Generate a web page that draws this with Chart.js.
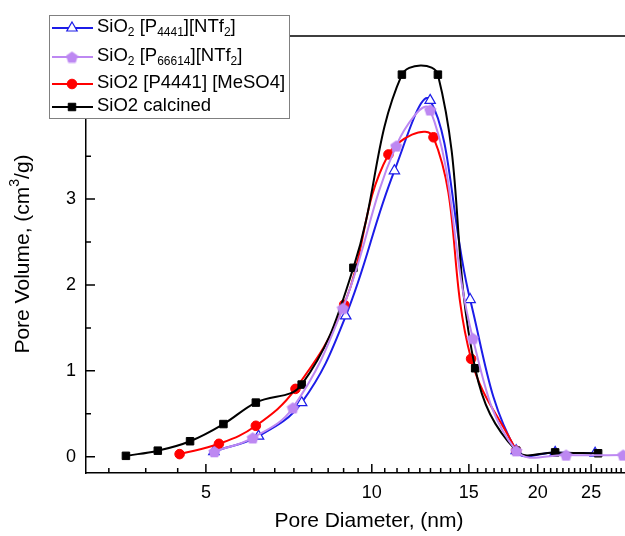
<!DOCTYPE html>
<html>
<head>
<meta charset="utf-8">
<script src="https://cdn.jsdelivr.net/npm/chart.js"></script>
<style>
  body { margin: 0; background: #fff; }
  #caja { width: 625px; height: 536px; }
</style>
</head>
<body>
<div id="caja"><canvas id="grafica" width="625" height="536"></canvas></div>
<script>
// etiquetas de la leyenda (subindices con unicode)
const etiquetas = ['SiO₂ [P₄₄₄₁][NTf₂]', 'SiO₂ [P₆₆₆₁₄][NTf₂]', 'SiO2 [P4441] [MeSO4]', 'SiO2 calcined']

// diametro de poro (nm) y volumen de poro (cm3/g)
const azulX = [5.17, 6.23, 7.46, 8.97, 10.99, 12.76, 15.08, 18.28, 21.51, 25.42]
const azulY = [0.06, 0.24, 0.63, 1.64, 3.33, 4.15, 1.83, 0.07, 0.05, 0.04]

const moradoX = [5.18, 6.08, 7.19, 8.86, 11.07, 12.76, 15.25, 18.28, 22.52, 28.58]
const moradoY = [0.06, 0.22, 0.57, 1.73, 3.62, 4.04, 1.38, 0.07, 0.02, 0.02]

const rojoX = [4.48, 5.28, 6.16, 7.27, 8.91, 10.72, 12.94, 15.14, 18.28]
const rojoY = [0.03, 0.15, 0.36, 0.79, 1.77, 3.52, 3.72, 1.14, 0.07]

const negroX = [3.58, 4.09, 4.68, 5.38, 6.16, 7.46, 9.26, 11.34, 13.18, 15.40, 18.28, 21.51, 25.74]
const negroY = [0.01, 0.07, 0.18, 0.38, 0.63, 0.84, 2.20, 4.45, 4.45, 1.03, 0.07, 0.05, 0.04]

const ticksX = [5, 10, 15, 20, 25]
const ticksY = [0, 1, 2, 3, 4]

const tituloX = 'Pore Diameter, (nm)'
const tituloY = 'Pore Volume, (cm³/g)'

const azul = '#1c1ce8'
const morado = '#bd88f2'
const rojo = '#ff0000'
const negro = '#000000'
const fuente = '"Liberation Sans", Arial, sans-serif'

// pentagono para la serie morada
const pentagono = document.createElement('canvas')
pentagono.width = 13
pentagono.height = 13
const pc = pentagono.getContext('2d')
pc.fillStyle = morado
pc.beginPath()
for (let i = 0; i < 5; i++) {
    const a = -Math.PI / 2 + i * 2 * Math.PI / 5
    const px = 6.5 + 6.3 * Math.cos(a)
    const py = 7.2 + 6.3 * Math.sin(a)
    if (i) pc.lineTo(px, py)
    else pc.moveTo(px, py)
}
pc.closePath()
pc.fill()

const puntos = (xs, ys) => xs.map((x, i) => ({ x: x, y: ys[i] }))

// texto con subindices / superindices unicode
const subs = { '₀': '0', '₁': '1', '₂': '2', '₃': '3', '₄': '4', '₆': '6' }
const sups = { '³': '3' }

const trozos = (texto) => {
    const res = []
    for (const c of texto) {
        const tipo = subs[c] ? 'sub' : (sups[c] ? 'sup' : 'n')
        const ch = subs[c] || sups[c] || c
        const ult = res[res.length - 1]
        if (ult && ult.tipo === tipo) ult.t += ch
        else res.push({ t: ch, tipo: tipo })
    }
    return res
}

const dibujarTexto = (ctx, texto, x, y, size, centrado) => {
    const partes = trozos(texto)
    const chico = Math.round(size * 0.66)
    let total = 0
    partes.forEach(p => {
        ctx.font = `${p.tipo === 'n' ? size : chico}px ${fuente}`
        p.w = ctx.measureText(p.t).width
        total += p.w
    })
    let cx = centrado ? x - total / 2 : x
    ctx.textBaseline = 'middle'
    ctx.textAlign = 'left'
    partes.forEach(p => {
        ctx.font = `${p.tipo === 'n' ? size : chico}px ${fuente}`
        let dy = 0
        if (p.tipo === 'sub') dy = size * 0.32
        if (p.tipo === 'sup') dy = -size * 0.36
        ctx.fillText(p.t, cx, y + dy)
        cx += p.w
    })
}

const extras = {
    id: 'extras',
    afterDraw(chart) {
        const { ctx, chartArea: a, scales } = chart
        const x = scales.x
        const y = scales.y
        ctx.save()
        ctx.strokeStyle = '#000'
        ctx.lineWidth = 1.5
        ctx.beginPath()
        x.ticks.forEach(t => {
            const px = x.getPixelForValue(t.value)
            const largo = ticksX.includes(t.value) ? 9 : 5
            ctx.moveTo(px, a.bottom)
            ctx.lineTo(px, a.bottom - largo)
        })
        y.ticks.forEach(t => {
            const py = y.getPixelForValue(t.value)
            const largo = ticksY.includes(t.value) ? 9 : 5
            ctx.moveTo(a.left, py)
            ctx.lineTo(a.left + largo, py)
        })
        ctx.moveTo(a.left, a.top)
        ctx.lineTo(chart.width, a.top)
        ctx.stroke()

        // titulos de los ejes
        ctx.fillStyle = '#000'
        dibujarTexto(ctx, tituloX, 369, 521, 21, true)
        ctx.save()
        ctx.translate(23, 254)
        ctx.rotate(-Math.PI / 2)
        dibujarTexto(ctx, tituloY, 0, 0, 21, true)
        ctx.restore()

        // leyenda
        ctx.fillStyle = '#fff'
        ctx.fillRect(49, 15, 240, 103)
        ctx.strokeStyle = '#808080'
        ctx.lineWidth = 1
        ctx.strokeRect(49.5, 15.5, 240, 103)
        const filas = [28, 57, 84, 107]
        chart.data.datasets.forEach((ds, i) => {
            const fy = filas[i]
            ctx.strokeStyle = ds.borderColor
            ctx.lineWidth = 2
            ctx.beginPath()
            ctx.moveTo(52, fy)
            ctx.lineTo(93, fy)
            ctx.stroke()
            ctx.fillStyle = ds.pointBackgroundColor
            ctx.strokeStyle = ds.pointBorderColor
            ctx.lineWidth = ds.pointBorderWidth
            Chart.helpers.drawPoint(ctx, {
                pointStyle: ds.pointStyle,
                radius: ds.pointRadius,
                rotation: 0,
                borderWidth: ds.pointBorderWidth
            }, 72, fy)
            ctx.fillStyle = '#000'
            dibujarTexto(ctx, ds.label, 97, fy - 1, 18.5, false)
        })
        ctx.restore()
    }
}

const grafico = new Chart(document.querySelector('#grafica'), {
    type: 'line',
    data: {
        datasets: [
            {
                label: etiquetas[0],
                data: puntos(azulX, azulY),
                borderColor: azul,
                borderWidth: 2,
                pointStyle: 'triangle',
                pointRadius: 6,
                pointBackgroundColor: '#fff',
                pointBorderColor: azul,
                pointBorderWidth: 1.2,
                tension: 0.4,
                order: 3
            },
            {
                label: etiquetas[1],
                data: puntos(moradoX, moradoY),
                borderColor: morado,
                borderWidth: 2,
                pointStyle: pentagono,
                pointRadius: 6,
                pointBackgroundColor: morado,
                pointBorderColor: morado,
                pointBorderWidth: 1,
                tension: 0.4,
                order: 0
            },
            {
                label: etiquetas[2],
                data: puntos(rojoX, rojoY),
                borderColor: rojo,
                borderWidth: 2,
                pointStyle: 'circle',
                pointRadius: 4.8,
                pointBackgroundColor: rojo,
                pointBorderColor: rojo,
                pointBorderWidth: 1,
                tension: 0.4,
                order: 2
            },
            {
                label: etiquetas[3],
                data: puntos(negroX, negroY),
                borderColor: negro,
                borderWidth: 2,
                pointStyle: 'rect',
                pointRadius: 5.3,
                pointBackgroundColor: negro,
                pointBorderColor: negro,
                pointBorderWidth: 1,
                tension: 0.4,
                order: 1
            }
        ]
    },
    options: {
        responsive: false,
        animation: false,
        layout: { autoPadding: false, padding: { top: 36, right: 0, left: 0, bottom: 0 } },
        plugins: {
            legend: { display: false },
            tooltip: { enabled: false }
        },
        scales: {
            x: {
                type: 'logarithmic',
                bounds: 'data',
                min: 3.03,
                max: 28.8,
                grid: { display: false, drawTicks: false, tickLength: 0 },
                border: { display: true, color: '#000', width: 1.5 },
                ticks: {
                    autoSkip: false,
                    maxRotation: 0,
                    minRotation: 0,
                    padding: 9,
                    color: '#000',
                    font: { family: fuente, size: 18 },
                    callback: (v) => ticksX.includes(v) ? String(v) : ''
                },
                afterBuildTicks: (escala) => {
                    const lista = []
                    for (let k = 0; k < 6; k++) {
                        for (let j = 0; j < 9; j++) {
                            const v = j === 0 ? k * 5 : k * 5 + j * 5 / 9
                            if (v >= escala.min && v <= escala.max) lista.push({ value: v })
                        }
                    }
                    escala.ticks = lista
                },
                afterFit: (escala) => {
                    escala.height = 63
                    escala.paddingLeft = 0
                    escala.paddingRight = 0
                }
            },
            y: {
                type: 'linear',
                bounds: 'data',
                min: -0.19,
                max: 4.9,
                grid: { display: false, drawTicks: false, tickLength: 0 },
                border: { display: true, color: '#000', width: 1.5 },
                ticks: {
                    autoSkip: false,
                    padding: 10,
                    color: '#000',
                    font: { family: fuente, size: 18 },
                    callback: (v) => ticksY.includes(v) ? String(v) : ''
                },
                afterBuildTicks: (escala) => {
                    const lista = []
                    for (let v = 0; v <= 4.5; v += 0.5) lista.push({ value: v })
                    escala.ticks = lista
                },
                afterFit: (escala) => {
                    escala.width = 86
                    escala.paddingTop = 0
                    escala.paddingBottom = 0
                }
            }
        }
    },
    plugins: [extras]
})
</script>
</body>
</html>
